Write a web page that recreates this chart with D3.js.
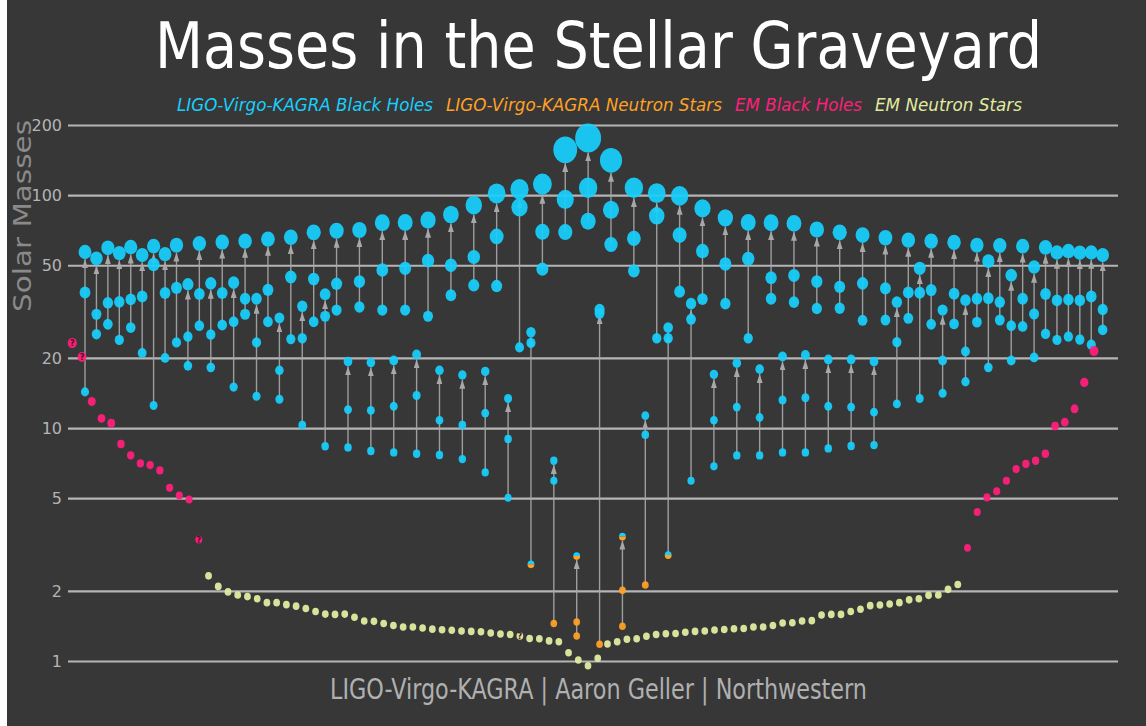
<!DOCTYPE html>
<html>
<head>
<meta charset="utf-8">
<script src="https://cdn.jsdelivr.net/npm/d3@7"></script>
<style>
  html, body { margin: 0; padding: 0; background: #fff; }
  svg { display: block; }
</style>
</head>
<body>
<svg id="chart" width="1146" height="726"></svg>
<script>
// LIGO-Virgo-KAGRA mergers, in plotted order (remnant, primary, secondary)
const lvkFinal = [57, 53.5, 59.4, 56.4, 59.8, 55.3, 60.4, 55.8, 61, 41.4,
  62, 41.8, 62.9, 42.1, 63.5, 35.9, 64.7, 29.7, 66, 33.3,
  69.2, 37.5, 70.3, 19.3, 70.8, 19.1, 76.1, 19.5, 76.3, 20.7,
  78.1, 17.7, 82.6, 16.9, 90.6, 17.5, 101.7, 13.4, 106, 25.8,
  111.5, 7.24, 156.6, 2.82, 176, 32.3, 141, 3.42, 107.5, 11.3,
  102, 27.0, 99.3, 34.2, 87.7, 17.0, 79.9, 19.0, 76.3, 17.9,
  76.1, 20.3, 75.6, 20.6, 71.2, 19.7, 69.2, 19.7, 67.4, 19.3,
  65.6, 34.7, 64.1, 48.5, 63.5, 32.1, 62.7, 35.4, 61, 52.1,
  60.8, 45.3, 60.4, 49.1, 59.6, 56.7, 57.5, 56.6, 56.7, 55.3];
const lvkM1 = [38.2, 30.8, 34.5, 34.8, 35.7, 36.7, 50.4, 38, 40, 24.7,
  37.6, 25.2, 38, 28.6, 35.9, 23.3, 39.2, 17.7, 44.5, 24.3,
  43.6, 30.2, 41.6, 12.0, 42.6, 11.9, 47.7, 12.4, 48.5, 13.8,
  52.3, 10.8, 50, 10.3, 54.2, 11.6, 66.5, 8.97, 88.6, 23.2,
  69.6, 5.94, 95.8, 1.47, 107.5, 31.1, 86.5, 2.01, 65.2, 9.36,
  81.5, 24.3, 67.4, 29.3, 57.5, 10.8, 50.6, 12.3, 53.3, 11.1,
  44.2, 13.2, 45.2, 13.5, 42.6, 12.4, 40.4, 12.3, 41.8, 11.7,
  39.8, 23.4, 38.2, 38.1, 39.1, 19.5, 37.7, 21.3, 35.9, 36.1,
  34.7, 27.5, 35.9, 30.9, 37.6, 35.3, 35.6, 35.3, 36.7, 32.3];
const lvkM2 = [14.3, 25.3, 27.9, 23.9, 27, 21, 12.5, 20, 23.3, 18.5,
  27.5, 18.2, 27.7, 15.0, 30.8, 13.7, 28.6, 13.3, 24.1, 10.3,
  28.6, 8.35, 32.1, 8.26, 33.1, 7.97, 32.1, 7.86, 32.1, 7.76,
  30.2, 7.66, 37.2, 7.36, 41, 6.45, 40.7, 5.02, 22.2, 2.6,
  48.1, 1.45, 69.4, 1.28, 77.3, 1.18, 61.4, 1.41, 47.3, 2.12,
  24.3, 2.85, 38.5, 5.94, 35.8, 6.85, 34.2, 7.63, 24.3, 7.63,
  35.9, 7.86, 34.7, 7.86, 32.6, 8.18, 32.7, 8.37, 29.0, 8.45,
  29.1, 12.7, 29.6, 13.4, 27.9, 14.1, 28.0, 15.8, 28.5, 18.2,
  29.1, 19.5, 27.3, 20.1, 25.4, 23.9, 24.7, 24.0, 22.8, 26.4];
// columns that are not plain black holes: [column, remnant, primary, secondary]
const lvkSpecialKinds = [
  [39, 'bh', 'bh', 'gap'],
  [41, 'bh', 'bh', 'ns'],
  [43, 'gap', 'ns', 'ns'],
  [45, 'bh', 'bh', 'ns'],
  [47, 'gap', 'ns', 'ns'],
  [49, 'bh', 'bh', 'ns'],
  [51, 'bh', 'bh', 'gap']
];

// electromagnetic observations, left to right
const emBlackHolesLeft = [23.2, 20.2, 13.0, 11.0, 10.5, 8.54, 7.64, 7.05, 6.94, 6.58, 5.54, 5.14, 4.94, 3.32];
const emNeutronStars = [2.32, 2.09, 1.98, 1.92, 1.89, 1.85, 1.78, 1.78, 1.745, 1.72,
  1.68, 1.63, 1.59, 1.585, 1.59, 1.54, 1.485, 1.48, 1.45, 1.42,
  1.40, 1.40, 1.386, 1.37, 1.363, 1.354, 1.345, 1.34, 1.335, 1.32,
  1.306, 1.30, 1.28, 1.25, 1.245, 1.22, 1.21, 1.086, 1.01, 0.955,
  1.027, 1.183, 1.21, 1.239, 1.245, 1.276, 1.30, 1.31, 1.313, 1.328,
  1.34, 1.345, 1.359, 1.365, 1.376, 1.38, 1.40, 1.40, 1.42, 1.456,
  1.46, 1.485, 1.49, 1.575, 1.585, 1.585, 1.63, 1.667, 1.728, 1.74,
  1.756, 1.78, 1.83, 1.85, 1.914, 1.92, 2.03, 2.13];
const emBlackHolesRight = [3.06, 4.36, 5.04, 5.35, 5.94, 6.67, 7.01, 7.24, 7.76, 10.2, 10.6, 12.1, 15.7, 21.4];
const emUncertain = [0, 1, 13, 46];

const yTicks = [1, 2, 5, 10, 20, 50, 100, 200];
const legendLabels = ['LIGO-Virgo-KAGRA Black Holes', 'LIGO-Virgo-KAGRA Neutron Stars', 'EM Black Holes', 'EM Neutron Stars'];

const colors = { bh: '#17cffd', ns: '#ffa126', embh: '#fe1f7a', emns: '#e0eba0' };
const W = 1146, H = 726;

const svg = d3.select('#chart');
svg.append('rect')
  .attr('x', 7).attr('y', 0)
  .attr('width', W - 7).attr('height', H)
  .attr('fill', '#373737');

const y = d3.scaleLog().domain([1, 200]).range([661, 125]);
const xLvk = d3.scalePoint().domain(d3.range(lvkFinal.length)).range([85, 1102.7]);
const emMasses = emBlackHolesLeft.concat(emNeutronStars, emBlackHolesRight);
const emKind = emMasses.map((d, i) =>
  (i < emBlackHolesLeft.length || i >= emBlackHolesLeft.length + emNeutronStars.length) ? 'embh' : 'emns');
const xEm = d3.scalePoint().domain(d3.range(emMasses.length)).range([72.3, 1094]);
const r = d3.scaleLinear().domain([0, 200]).range([3.3, 14.3]);
const stretch = 1.12;

// grid + tick labels
const yAxis = d3.axisLeft(y)
  .tickValues(yTicks)
  .tickFormat(d3.format('d'))
  .tickSize(-(1118 - 68))
  .tickPadding(6);

svg.append('g')
  .attr('transform', 'translate(68,0)')
  .call(yAxis)
  .call(g => g.select('.domain').remove())
  .call(g => g.selectAll('line').attr('stroke', '#b5b5b5').attr('stroke-width', 2.2))
  .call(g => g.selectAll('text')
    .attr('fill', '#b4b4b4')
    .attr('font-size', 16)
    .attr('font-family', 'DejaVu Sans'));

// arrow marker
svg.append('defs').append('marker')
  .attr('id', 'arrow')
  .attr('viewBox', '0 0 10 10')
  .attr('refX', 10).attr('refY', 5)
  .attr('markerWidth', 9).attr('markerHeight', 6)
  .attr('markerUnits', 'userSpaceOnUse')
  .attr('preserveAspectRatio', 'none')
  .attr('orient', 'auto')
  .append('path')
  .attr('d', 'M0,0 L10,5 L0,10 z')
  .attr('fill', '#a8a8a8');

const events = lvkFinal.map((f, i) => {
  const special = lvkSpecialKinds.find(s => s[0] === i);
  return {
    i,
    final: f, m1: lvkM1[i], m2: lvkM2[i],
    kinds: special ? special.slice(1) : ['bh', 'bh', 'bh']
  };
});

// merger arrows
svg.append('g')
  .selectAll('line')
  .data(events)
  .join('line')
  .attr('x1', d => xLvk(d.i))
  .attr('x2', d => xLvk(d.i))
  .attr('y1', d => y(d.m2))
  .attr('y2', d => y(d.final) + r(d.final) * stretch)
  .attr('stroke', '#a8a8a8')
  .attr('stroke-opacity', 0.9)
  .attr('stroke-width', 1.4)
  .attr('marker-end', 'url(#arrow)');

function drawBody(g, cx, cy, rad, kind) {
  const ry = rad * stretch;
  if (kind === 'gap') {
    g.append('path')
      .attr('d', `M${cx - rad},${cy} A${rad},${ry} 0 0 1 ${cx + rad},${cy} Z`)
      .attr('fill', colors.bh);
    g.append('path')
      .attr('d', `M${cx - rad},${cy} A${rad},${ry} 0 0 0 ${cx + rad},${cy} Z`)
      .attr('fill', colors.ns);
  } else {
    g.append('ellipse')
      .attr('cx', cx).attr('cy', cy)
      .attr('rx', rad).attr('ry', ry)
      .attr('fill', colors[kind])
      .attr('fill-opacity', 0.93);
  }
}

const lvkLayer = svg.append('g');
events.forEach(d => {
  const cx = xLvk(d.i);
  drawBody(lvkLayer, cx, y(d.m2), r(d.m2), d.kinds[2]);
  drawBody(lvkLayer, cx, y(d.m1), r(d.m1), d.kinds[1]);
  drawBody(lvkLayer, cx, y(d.final), r(d.final), d.kinds[0]);
});

// EM objects
const emLayer = svg.append('g');
emLayer.selectAll('ellipse')
  .data(emMasses)
  .join('ellipse')
  .attr('cx', (d, i) => xEm(i))
  .attr('cy', d => y(d))
  .attr('rx', d => r(d))
  .attr('ry', d => r(d) * stretch)
  .attr('fill', (d, i) => colors[emKind[i]])
  .attr('fill-opacity', 0.95);

emLayer.selectAll('text')
  .data(emUncertain)
  .join('text')
  .attr('x', i => xEm(i))
  .attr('y', i => y(emMasses[i]) + 3)
  .attr('text-anchor', 'middle')
  .attr('font-family', 'DejaVu Sans')
  .attr('font-weight', 'bold')
  .attr('font-size', 8)
  .attr('fill', '#4a1020')
  .text('?');

// title
svg.append('text')
  .attr('x', 155).attr('y', 68)
  .attr('font-family', 'DejaVu Sans')
  .attr('font-size', 64)
  .attr('fill', '#ffffff')
  .attr('textLength', 887)
  .attr('lengthAdjust', 'spacingAndGlyphs')
  .text('Masses in the Stellar Graveyard');

// legend
const legendX = [177, 446, 735, 875];
const legendW = [256, 276, 127, 147];
const legendC = [colors.bh, colors.ns, colors.embh, colors.emns];
svg.append('g')
  .selectAll('text')
  .data(legendLabels)
  .join('text')
  .attr('x', (d, i) => legendX[i])
  .attr('y', 111)
  .attr('font-family', 'DejaVu Sans')
  .attr('font-style', 'italic')
  .attr('font-size', 18)
  .attr('fill', (d, i) => legendC[i])
  .attr('textLength', (d, i) => legendW[i])
  .attr('lengthAdjust', 'spacingAndGlyphs')
  .text(d => d);

// axis title
svg.append('text')
  .attr('transform', 'translate(31,216) rotate(-90)')
  .attr('text-anchor', 'middle')
  .attr('font-family', 'DejaVu Sans')
  .attr('font-size', 25)
  .attr('fill', '#8a8a8a')
  .attr('textLength', 192)
  .attr('lengthAdjust', 'spacingAndGlyphs')
  .text('Solar Masses');

// credit
svg.append('text')
  .attr('x', 330).attr('y', 699)
  .attr('font-family', 'DejaVu Sans')
  .attr('font-size', 28)
  .attr('fill', '#b0b0b0')
  .attr('textLength', 537)
  .attr('lengthAdjust', 'spacingAndGlyphs')
  .text('LIGO-Virgo-KAGRA | Aaron Geller | Northwestern');
</script>
</body>
</html>
